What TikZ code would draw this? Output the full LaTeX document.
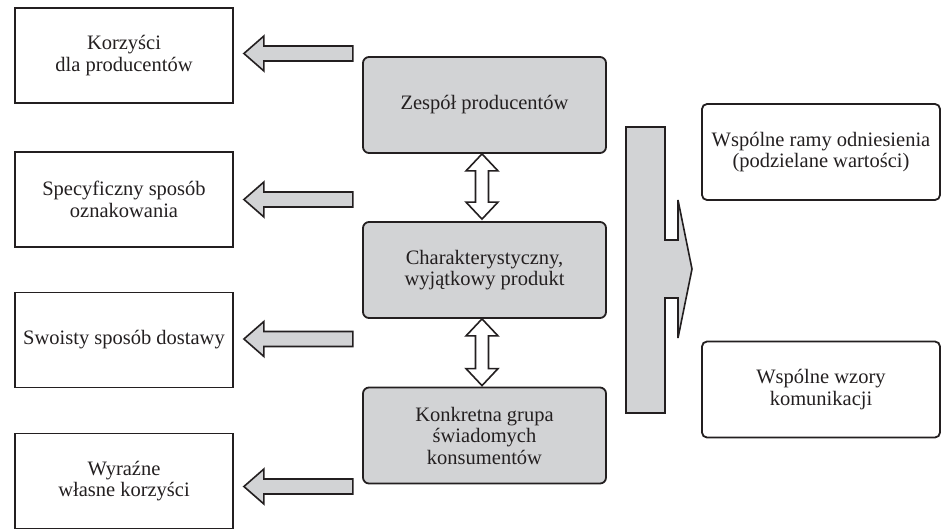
\documentclass[tikz,border=0pt]{standalone}
\usepackage{fontspec}
\setmainfont{Liberation Serif}
\usetikzlibrary{calc}
\definecolor{boxgray}{RGB}{210,211,213}
\definecolor{ink}{RGB}{35,31,32}
\tikzset{%
  sidebox/.style  = {draw=ink, line width=1.8pt, rectangle, fill=white,
    minimum width=218pt, minimum height=95pt, align=center, inner sep=2pt},
  corebox/.style  = {draw=ink, line width=1.8pt, rectangle, rounded corners=6pt,
    fill=boxgray, minimum width=243pt, minimum height=96pt, align=center},
  sharedbox/.style = {draw=ink, line width=1.8pt, rectangle, rounded corners=5pt,
    fill=white, minimum width=238pt, minimum height=96pt, align=center, inner sep=2pt},
  fatarrow/.style = {draw=ink, line width=1.6pt, fill=boxgray, line join=miter},
  hollowarrow/.style = {draw=ink, line width=1.6pt, fill=white, line join=miter}
}
% block arrow pointing left, #1 = tip
\newcommand{\fatleft}[1]{%
  \draw[fatarrow] (#1) -- ++(20,-17.5) -- ++(0,10) -- ++(89,0) -- ++(0,15)
    -- ++(-89,0) -- ++(0,10) -- cycle;}
% hollow two-headed arrow, #1 = upper tip, #2 = lower tip
\newcommand{\fatboth}[2]{%
  \draw[hollowarrow] (#1) -- ++(16,17) -- ++(-9.5,0) -- ($(#2)+(6.5,-17)$)
    -- ++(9.5,0) -- (#2) -- ++(-16,-17) -- ++(9.5,0) -- ($(#1)+(-6.5,17)$)
    -- ++(-9.5,0) -- cycle;}

\begin{document}
\begin{tikzpicture}[x=1pt, y=-1pt, font=\fontsize{20.5}{21.5}\selectfont, text=ink]
\clip (0,0) rectangle (942,528);
	% Boxes on the left
	\node[sidebox] (korz) at (124,55.5) {Korzyści\\dla producentów};
	\node[sidebox] (spec) at (124,199.5) {Specyficzny sposób\\oznakowania};
	\node[sidebox] (swo)  at (124,340) {Swoisty sposób dostawy};
	\node[sidebox] (wyr)  at (124,481) {Wyraźne\\własne korzyści};
	% Grey column in the middle
	\node[corebox] (zes)  at (484.5,105) {Zespół producentów};
	\node[corebox] (char) at (484.5,270) {Charakterystyczny,\\wyjątkowy produkt};
	\node[corebox] (kons) at (484.5,435.5) {Konkretna grupa\\świadomych\\konsumentów};
	% Boxes on the right
	\node[sharedbox] (ramy) at (821,152) {Wspólne ramy odniesienia\\(podzielane wartości)};
	\node[sharedbox] (wzor) at (821,389.5) {Wspólne wzory\\komunikacji};
	% Arrows to the left boxes
	\foreach \n/\dy in {korz/-2, spec/0, swo/-1, wyr/5.5}
		\fatleft{$(\n.east)+(10,\dy)$};
	% Arrows between the grey boxes
	\fatboth{$(zes.south)+(-2.5,0)$}{$(char.north)+(-2.5,-2)$}
	\fatboth{$(char.south)+(-2.5,0)$}{$(kons.north)+(-2.5,-1)$}
	% Big arrow towards the right boxes
	\draw[fatarrow] (626,127) -- ++(39,0) -- ++(0,113) -- ++(13,0) -- ++(0,-40)
		-- ++(14,69) -- ++(-14,69) -- ++(0,-40) -- ++(-13,0) -- ++(0,115)
		-- ++(-39,0) -- cycle;
\end{tikzpicture}
\end{document}
